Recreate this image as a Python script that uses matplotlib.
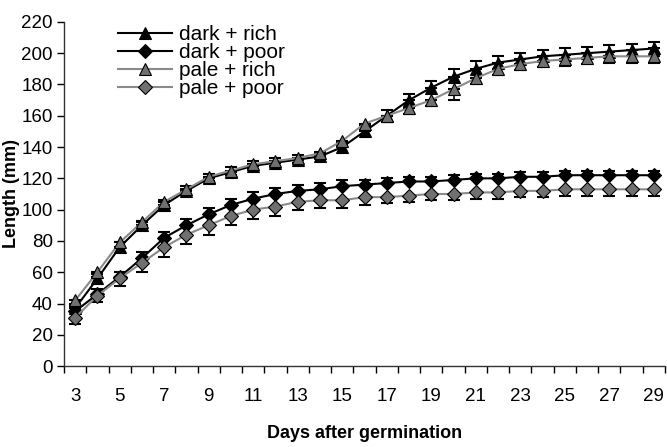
import numpy as np
import matplotlib
matplotlib.use("Agg")
import matplotlib.pyplot as plt

plt.rcParams['font.family'] = ['Liberation Sans', 'DejaVu Sans']

days = list(range(3, 30))

# mean length (mm)
darkRich = [37, 56, 76, 90, 103, 112, 120, 124, 128, 130, 132, 134, 140, 150, 160, 170, 178, 185, 190, 194, 196, 198, 199, 200, 201, 202, 203]
darkPoor = [35, 46, 57, 69, 82, 90, 97, 103, 107, 110, 112, 113, 115, 116, 117, 118, 118, 119, 120, 120, 121, 121, 122, 122, 122, 122, 122]
paleRich = [42, 60, 79, 92, 105, 113, 121, 125, 129, 131, 133, 136, 144, 155, 160, 165, 170, 177, 184, 190, 193, 195, 196, 197, 198, 198, 198]
palePoor = [31, 45, 56, 66, 76, 84, 90, 96, 100, 102, 105, 106, 106, 108, 108, 109, 110, 110, 111, 111, 112, 112, 113, 113, 113, 113, 113]

# error bars (mm)
darkRichErr = [3, 3, 3, 3, 3, 3, 3, 3, 3, 3, 3, 3, 3, 4, 4, 4, 4, 5, 5, 4, 4, 4, 4, 4, 4, 4, 4]
darkPoorErr = [3, 3, 3, 4, 4, 4, 4, 4, 4, 4, 4, 4, 4, 3, 3, 3, 3, 3, 3, 3, 3, 3, 3, 3, 3, 3, 3]
paleRichErr = [3, 3, 3, 3, 3, 3, 3, 3, 3, 3, 3, 3, 3, 4, 4, 4, 4, 7, 4, 4, 4, 4, 4, 4, 4, 4, 4]
palePoorErr = [4, 4, 5, 6, 6, 6, 6, 6, 6, 6, 5, 5, 5, 5, 4, 4, 4, 4, 4, 4, 4, 4, 4, 4, 4, 4, 4]

x = np.arange(len(days))

fig = plt.figure(figsize=(6.67, 4.47), dpi=100)
ax = fig.add_axes([0.096, 0.181, 0.901, 0.770])

def drawSeries(vals, err, upper, marker, msize, face, line, label):
    zeros = [0]*len(err)
    yerr = [zeros, err] if upper else [err, zeros]
    ax.errorbar(x, vals, yerr=yerr, fmt='none', ecolor='black', elinewidth=1.2, capsize=4.5, capthick=1.5, zorder=2)
    ax.plot(x, vals, color=line, lw=1.5, marker=marker, markersize=msize, markerfacecolor=face,
            markeredgecolor='black', markeredgewidth=0.8, label=label, zorder=3)

drawSeries(darkRich, darkRichErr, True, '^', 9, 'black', 'black', 'dark + rich')
drawSeries(darkPoor, darkPoorErr, True, 'D', 7, 'black', 'black', 'dark + poor')
drawSeries(paleRich, paleRichErr, False, '^', 9, '#707070', '#8a8a8a', 'pale + rich')
drawSeries(palePoor, palePoorErr, False, 'D', 7, '#707070', '#8a8a8a', 'pale + poor')

ax.set_xlim(-0.5, len(days) - 0.5)
ax.set_ylim(0, 220)
ax.set_yticks(range(0, 221, 20))
ax.set_xticks(x[::2])
ax.set_xticklabels([str(d) for d in days[::2]])
ax.set_xticks(np.arange(-0.5, len(days), 1), minor=True)
ax.tick_params(axis='x', which='major', length=0, pad=16, labelsize=13.5)
ax.tick_params(axis='x', which='minor', length=5, width=1, direction='out')
ax.tick_params(axis='y', length=5, width=1, direction='out', labelsize=13.5, pad=3)

for s in ['top', 'right']:
    ax.spines[s].set_visible(False)
for s in ['left', 'bottom']:
    ax.spines[s].set_linewidth(1)
    ax.spines[s].set_color('#333333')

ax.set_xlabel('Days after germination', fontsize=13, fontweight='bold', labelpad=14)
ax.set_ylabel('Length (mm)', fontsize=13, fontweight='bold', labelpad=1)

leg = ax.legend(loc='upper left', bbox_to_anchor=(0.09, 0.99), frameon=False, fontsize=15,
                handlelength=2.6, handletextpad=0.3, labelspacing=-0.05, borderaxespad=0, borderpad=0)

fig.savefig('out.png', dpi=100)
